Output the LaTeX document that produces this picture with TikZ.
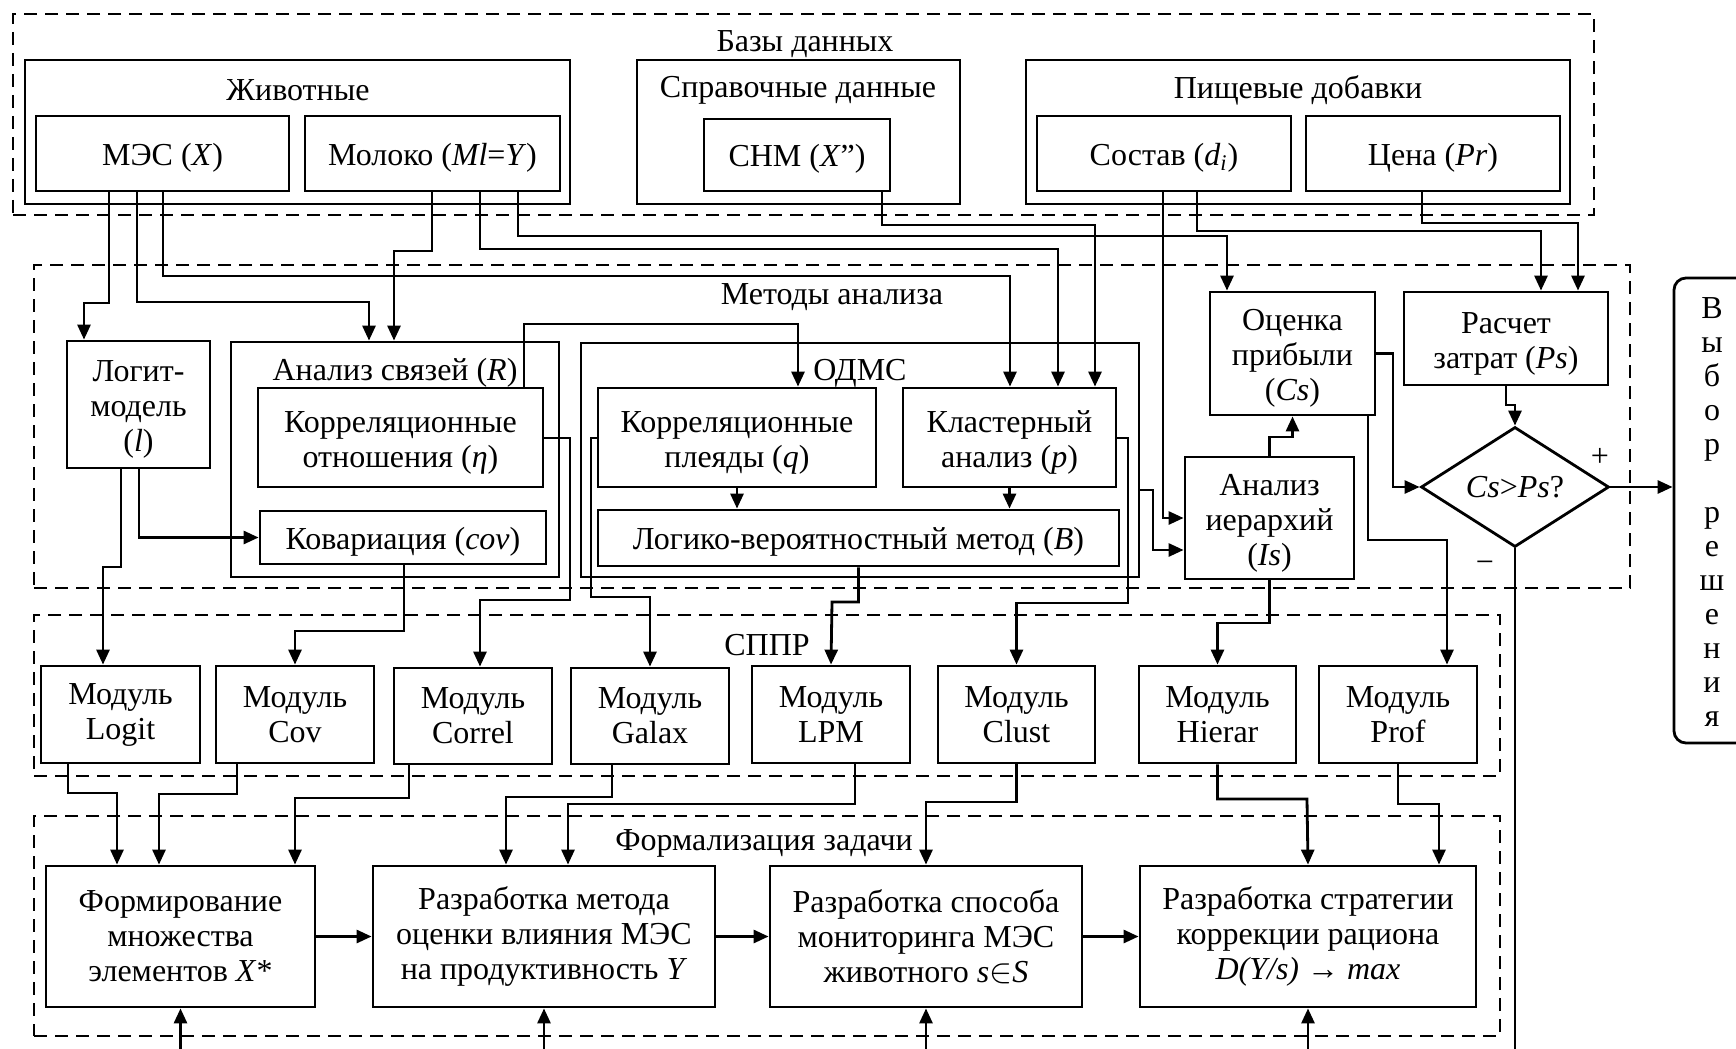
\documentclass[tikz,border=0pt]{standalone}
\usepackage{fontspec}
\setmainfont{Liberation Serif}
\usetikzlibrary{arrows.meta,fit,shapes.geometric}
% taller first line, so that the lines of a box sit a little lower
\newcommand\lowstrut{\rule{0pt}{15.5pt}}

\begin{document}
\begin{tikzpicture}[x=0.5pt,y=-0.5pt,
  every node/.style={font=\fontsize{16}{17.5}\selectfont},
  box/.style={draw, line width=1.4pt, inner sep=0pt, align=center},
  oneline/.style={text height=13pt, text depth=1.5pt},
  group/.style={draw, line width=1.4pt, inner sep=0pt},
  zone/.style={draw, line width=1.3pt, inner sep=0pt, dash pattern=on 6.5pt off 4pt},
  heading/.style={inner sep=0pt, anchor=center},
  conn/.style={line width=1.4pt},
  arr/.style={conn, -{Triangle[length=7.5pt,width=6.5pt]}},
]
\useasboundingbox (0,0) rectangle (1736,1049);
\clip (0,0) rectangle (1736,1049);

% ---------- dashed zones ----------
\node[zone, fit={(13,14) (1594,215)}] (zdb) {};
\node[zone, fit={(34,265) (1630,588)}] (zmeth) {};
\node[zone, fit={(34,615) (1500,776)}] (zdss) {};
\node[zone, fit={(34,816) (1500,1036)}] (zform) {};
\node[heading] (tdb) at (805,44) {Базы данных};
\node[heading] (tmeth) at (832,297) {Методы анализа};
\node[heading] (tdss) at (767,645) {СППР};
\node[heading] (tform) at (764,843) {Формализация задачи};

% ---------- databases ----------
\node[group, fit={(25,60) (570,204)}] (animals) {};
\node[heading] (tanimals) at (298,90) {Животные};
\node[box, oneline, minimum width=126.5pt, minimum height=37.5pt] (mes) at (162.5,153.5) {МЭС (\textit{X})};
\node[box, oneline, minimum width=127.5pt, minimum height=37.5pt] (milk) at (432.5,153.5) {Молоко (\textit{Ml}=\textit{Y})};

\node[group, fit={(637,60) (960,204)}] (refdata) {};
\node[heading] (trefdata) at (798,90) {Справочные данные};
\node[box, oneline, minimum width=93pt, minimum height=36pt] (snm) at (797,155) {СНМ (\textit{X}”)};

\node[group, fit={(1026,60) (1570,204)}] (additives) {};
\node[heading] (tadditives) at (1298,90) {Пищевые добавки};
\node[box, oneline, minimum width=127pt, minimum height=37.5pt] (sostav) at (1164,153.5) {Состав (\textit{d}\textsubscript{\textit{i}})};
\node[box, oneline, minimum width=127pt, minimum height=37.5pt] (price) at (1433,153.5) {Цена (\textit{Pr})};

% ---------- analysis methods ----------
\node[box, minimum width=71.5pt, minimum height=63.5pt] (logit) at (138.5,404.5) {\lowstrut Логит-\\модель\\(\textit{l})};

\node[group, fit={(231,342) (559,577)}] (rel) {};
\node[heading] (trel) at (395,373) {Анализ связей (\textit{R})};
\node[box, minimum width=142.5pt, minimum height=49.5pt] (eta) at (400.5,437.5) {\lowstrut Корреляционные\\отношения (\textit{η})};
\node[box, oneline, minimum width=143pt, minimum height=26.5pt] (cov) at (403,537.5) {Ковариация (\textit{cov})};

\node[group, fit={(581,343) (1139,577)}] (odms) {};
\node[heading] (todms) at (860,373) {ОДМС};
\node[box, minimum width=139pt, minimum height=49.5pt] (pleiad) at (737,437.5) {\lowstrut Корреляционные\\плеяды (\textit{q})};
\node[box, minimum width=106.5pt, minimum height=49.5pt] (clust) at (1009.5,437.5) {\lowstrut Кластерный\\анализ (\textit{p})};
\node[box, oneline, minimum width=260.5pt, minimum height=28pt] (lpm) at (858.5,538) {Логико-вероятностный метод (\textit{B})};

\node[box, minimum width=82.5pt, minimum height=61.5pt] (profit) at (1292.5,353.5) {\lowstrut Оценка\\прибыли\\(\textit{Cs})};
\node[box, minimum width=102pt, minimum height=46.5pt] (cost) at (1506,338.5) {\lowstrut Расчет\\затрат (\textit{Ps})};
\node[box, minimum width=84.5pt, minimum height=61pt] (hier) at (1269.5,518) {\lowstrut Анализ\\иерархий\\(\textit{Is})};
\node[draw, diamond, line width=1.4pt, inner sep=0pt, aspect=1.57,
      minimum width=94pt, minimum height=60pt] (dec) at (1515,487) {\textit{Cs}>\textit{Ps}?};
\node[heading] (plus) at (1600,457) {+};
\node[heading] (minus) at (1485,567) {−};

\node[group, rounded corners=6pt, fit={(1674,278) (1800,743)}] (choice) {};
\node[heading, align=center, font=\fontsize{16}{17}\selectfont] (tchoice) at (1712,512)
  {В\\ы\\б\\о\\р\\[17pt]р\\е\\ш\\е\\н\\и\\я};

% ---------- decision support modules ----------
\node[box, minimum width=79.5pt, minimum height=48.5pt] (mLogit) at (120.5,714.5) {Модуль\\Logit};
\node[box, minimum width=79pt, minimum height=48.5pt] (mCov) at (295,714.5) {Модуль\\Cov};
\node[box, minimum width=79pt, minimum height=48pt] (mCorrel) at (473,716) {Модуль\\Correl};
\node[box, minimum width=79pt, minimum height=48pt] (mGalax) at (650,716) {Модуль\\Galax};
\node[box, minimum width=79pt, minimum height=48.5pt] (mLPM) at (831,714.5) {Модуль\\LPM};
\node[box, minimum width=78.5pt, minimum height=48.5pt] (mClust) at (1016.5,714.5) {Модуль\\Clust};
\node[box, minimum width=78.5pt, minimum height=48.5pt] (mHier) at (1217.5,714.5) {Модуль\\Hierar};
\node[box, minimum width=79pt, minimum height=48.5pt] (mProf) at (1398,714.5) {Модуль\\Prof};

% ---------- problem formalisation ----------
\node[box, minimum width=134.5pt, minimum height=70.5pt] (f1) at (180.5,936.5) {Формирование\\множества\\элементов \textit{X}*};
\node[box, minimum width=171pt, minimum height=70.5pt] (f2) at (544,936.5) {Разработка метода\\оценки влияния МЭС\\на продуктивность \textit{Y}};
\node[box, minimum width=156pt, minimum height=70.5pt] (f3) at (926,936.5) {Разработка способа\\мониторинга МЭС\\животного \textit{s}$\in$\textit{S}};
\node[box, minimum width=168pt, minimum height=70.5pt] (f4) at (1308,936.5) {Разработка стратегии\\коррекции рациона\\\textit{D(Y/s)} → \textit{max}};

\coordinate (bot) at (0,1060);
\coordinate (declow) at (1515,937);
\coordinate (decend) at (1515,1060);

% ---------- databases -> methods ----------
\draw[arr] (mes.south -| 109,0) |- (84,303) -- (logit.north -| 84,0);
\draw[arr] (mes.south -| 137,0) |- (369,302) -- (rel.north -| 369,0);
\draw[arr] (mes.south -| 163,0) |- (1010,276) -- (clust.north -| 1010,0);
\draw[arr] (milk.south -| 432,0) |- (394,251) -- (rel.north -| 394,0);
\draw[arr] (milk.south -| 480,0) |- (1058,249) -- (clust.north -| 1058,0);
\draw[arr] (milk.south -| 518,0) |- (1227,236) -- (profit.north -| 1227,0);
\draw[arr] (snm.south -| 882,0) |- (1095,225) -- (clust.north -| 1095,0);
\draw[arr] (sostav.south -| 1163,0) |- (hier.west |- 0,518);
\draw[arr] (sostav.south -| 1197,0) |- (1541,231) -- (cost.north -| 1541,0);
\draw[arr] (price.south -| 1422,0) |- (1578,223) -- (cost.north -| 1578,0);

% ---------- inside the methods zone ----------
\draw[arr] (eta.north -| 524,0) |- (798,324) -- (pleiad.north -| 798,0);
\draw[arr] (logit.south -| 139,0) |- (cov.west);
\draw[arr] (pleiad.south) -- (pleiad.south |- lpm.north);
\draw[arr] (clust.south) -- (clust.south |- lpm.north);
\draw[arr] (odms.east |- 0,490) -| (1153,550) -- (hier.west |- 0,550);
\draw[arr] (hier.north) |- (profit.south |- 0,437) -- (profit.south);
\draw[arr] (profit.east) -| (1393,487) -- (dec.west);
\draw[arr] (cost.south) |- (dec.north |- 0,405) -- (dec.north);
\draw[arr] (dec.east) -- (choice.west |- dec.east);
\draw[line width=0.7pt] (dec.south) -- (declow);
\draw[conn] (declow) -- (decend);

% ---------- methods -> modules ----------
\draw[arr] (logit.south -| 121,0) |- (103,567) -- (mLogit.north -| 103,0);
\draw[arr] (cov.south -| 404,0) |- (295,631) -- (mCov.north);
\draw[arr] (eta.east |- 0,438) -| (570,600) -| (mCorrel.north -| 480,0);
\draw[arr] (pleiad.west |- 0,438) -| (591,597) -| (mGalax.north);
\draw[arr] (lpm.south) |- (832,602) -- (mLPM.north);
\draw[arr] (clust.east |- 0,438) -| (1128,603) -| (mClust.north);
\draw[arr] (hier.south) |- (mHier.north |- 0,623) -- (mHier.north);
\draw[arr] (profit.south -| 1368,0) |- (1447,540) -- (mProf.north -| 1447,0);

% ---------- modules -> formalisation ----------
\draw[arr] (mLogit.south -| 68,0) |- (117,793) -- (f1.north -| 117,0);
\draw[arr] (mCov.south -| 237,0) |- (159,794) -- (f1.north -| 159,0);
\draw[arr] (mCorrel.south -| 409,0) |- (295,798) -- (f1.north -| 295,0);
\draw[arr] (mGalax.south -| 612,0) |- (506,797) -- (f2.north -| 506,0);
\draw[arr] (mLPM.south -| 855,0) |- (568,804) -- (f2.north -| 568,0);
\draw[arr] (mClust.south) |- (926,802) -- (f3.north);
\draw[arr] (mHier.south) |- (1307,799) -- (f4.north);
\draw[arr] (mProf.south) |- (1439,804) -- (f4.north -| 1439,0);

% ---------- formalisation chain ----------
\draw[arr] (f1.east) -- (f2.west);
\draw[arr] (f2.east) -- (f3.west);
\draw[arr] (f3.east) -- (f4.west);
\draw[arr] (f1.south |- bot) -- (f1.south);
\draw[arr] (f2.south |- bot) -- (f2.south);
\draw[arr] (f3.south |- bot) -- (f3.south);
\draw[arr] (f4.south |- bot) -- (f4.south);
\end{tikzpicture}
\end{document}
